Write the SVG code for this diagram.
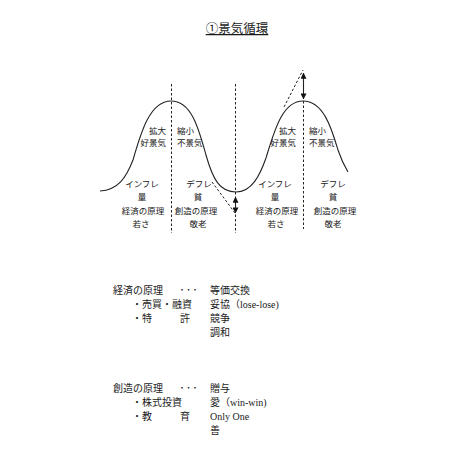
<svg xmlns="http://www.w3.org/2000/svg" width="460" height="460" viewBox="0 0 460 460">
<style>
text{font-family:"Noto Sans CJK JP","Noto Sans",sans-serif;font-size:10px;fill:#1a1a1a}
.s{font-size:8.5px}
.c{text-anchor:middle}
.e{text-anchor:end}
.lat{font-family:"Liberation Serif",serif}
.dots{letter-spacing:1.5px}
.dash{stroke:#222;stroke-width:1;stroke-dasharray:2.5 2;fill:none}
.solid{stroke:#222;stroke-width:1.1;fill:none}
</style>
<defs>
<marker id="ah" viewBox="0 0 8 8" refX="7.5" refY="4" markerWidth="6" markerHeight="6" markerUnits="userSpaceOnUse" orient="auto-start-reverse">
<path d="M0,0 L8,4 L0,8 Z" fill="#111"/>
</marker>
</defs>
<rect width="460" height="460" fill="#fff"/>
<g id="title">
<text x="237" y="33" class="c" style="font-size:12.5px;text-decoration:underline">①景気循環</text>
</g>
<g id="curve">
<path class="solid" d="M100,191 C118,190 126,178 133,160 C141,132 150,101 171,101 C192,101 199,130 206,155 C213,180 220,192 236,192 C252,192 260,175 266,158 C274,132 282,101 303,101 C324,101 332,130 338,150 C342,162 345,167 348,172"/>
</g>
<g id="connectors">
<line class="dash" x1="171.5" y1="84" x2="171.5" y2="233"/>
<line class="dash" x1="235.5" y1="84" x2="235.5" y2="233"/>
<line class="dash" x1="303.5" y1="101" x2="303.5" y2="229"/>
<line class="dash" x1="212" y1="182" x2="235" y2="213"/>
<line class="dash" x1="284" y1="107" x2="303" y2="70"/>
<line class="solid" x1="235.5" y1="197" x2="235.5" y2="213" marker-start="url(#ah)" marker-end="url(#ah)"/>
<line class="solid" x1="303.5" y1="73" x2="303.5" y2="99" marker-start="url(#ah)" marker-end="url(#ah)"/>
</g>
<g id="phase-labels" class="s">
<text x="166" y="134" class="s e">拡大</text>
<text x="166" y="146" class="s e">好景気</text>
<text x="177" y="134" class="s">縮小</text>
<text x="177" y="146" class="s">不景気</text>
<text x="296" y="134" class="s e">拡大</text>
<text x="296" y="146" class="s e">好景気</text>
<text x="309" y="134" class="s">縮小</text>
<text x="309" y="146" class="s">不景気</text>
</g>
<g id="col1">
<text x="142" y="187" class="s c">インフレ</text>
<text x="142" y="200" class="s c">量</text>
<text x="143" y="214" class="s c">経済の原理</text>
<text x="141" y="227" class="s c">若さ</text>
</g>
<g id="col2">
<text x="199" y="187" class="s c">デフレ</text>
<text x="198" y="200" class="s c">貧</text>
<text x="196" y="214" class="s c">創造の原理</text>
<text x="198" y="227" class="s c">敬老</text>
</g>
<g id="col3">
<text x="275" y="187" class="s c">インフレ</text>
<text x="275" y="200" class="s c">量</text>
<text x="277" y="214" class="s c">経済の原理</text>
<text x="276" y="227" class="s c">若さ</text>
</g>
<g id="col4">
<text x="333" y="187" class="s c">デフレ</text>
<text x="333" y="200" class="s c">貧</text>
<text x="335" y="214" class="s c">創造の原理</text>
<text x="333" y="227" class="s c">敬老</text>
</g>
<g id="economy-block">
<text x="113" y="294">経済の原理</text>
<text x="179.5" y="294" class="dots">･･･</text>
<text x="210" y="294">等価交換</text>
<text x="132" y="308">・売買・融資</text>
<text x="210" y="308">妥協（<tspan class="lat">lose-lose)</tspan></text>
<text x="132" y="322">・特</text>
<text x="180" y="322">許</text>
<text x="210" y="322">競争</text>
<text x="210" y="336">調和</text>
</g>
<g id="creation-block">
<text x="113" y="392">創造の原理</text>
<text x="179.5" y="392" class="dots">･･･</text>
<text x="210" y="392">贈与</text>
<text x="132" y="406">・株式投資</text>
<text x="210" y="406">愛（<tspan class="lat">win-win)</tspan></text>
<text x="132" y="420">・教</text>
<text x="180" y="420">育</text>
<text x="210" y="420" class="lat">Only One</text>
<text x="210" y="434">善</text>
</g>
</svg>
